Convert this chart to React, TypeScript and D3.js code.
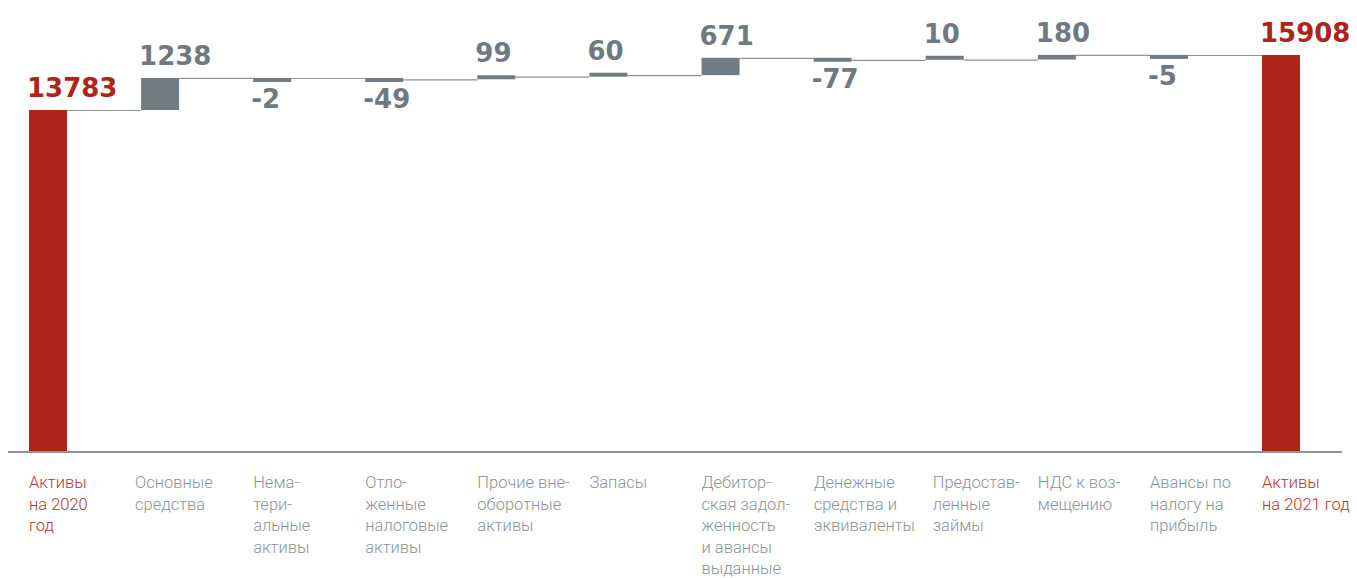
import React from "react";
import * as d3 from "d3";

const categories: string[] = [
  "start", "os", "nma", "ona", "pva", "zap", "deb", "den", "zaim", "nds", "avn", "end",
];
const labelLines: string[][] = [
  ["Активы", "на 2020", "год"],
  ["Основные", "средства"],
  ["Нема-", "тери-", "альные", "активы"],
  ["Отло-", "женные", "налоговые", "активы"],
  ["Прочие вне-", "оборотные", "активы"],
  ["Запасы"],
  ["Дебитор-", "ская задол-", "женность", "и авансы", "выданные"],
  ["Денежные", "средства и", "эквиваленты"],
  ["Предостав-", "ленные", "займы"],
  ["НДС к воз-", "мещению"],
  ["Авансы по", "налогу на", "прибыль"],
  ["Активы", "на 2021 год"],
];
const startTotal = 13783;
const changes: number[] = [1238, -2, -49, 99, 60, 671, -77, 10, 180, -5];
const endTotal = 15908;

const W = 1357;
const H = 578;
const axisY = 452;
const RED = "#ad2519";
const RED_TXT = "#b5352c";
const GRAY_BAR = "#717b81";
const GRAY_TXT = "#8b9297";
const GRAY_VAL = "#6f797f";
const LINE = "#8c959b";
const MIN_H = 4;

type Bar = { key: string; kind: "total" | "delta"; value: number; from: number; to: number };

export default function App() {
  const bars: Bar[] = [];
  bars.push({ key: categories[0], kind: "total", value: startTotal, from: 0, to: startTotal });
  let cum = startTotal;
  changes.forEach((c, i) => {
    bars.push({ key: categories[i + 1], kind: "delta", value: c, from: cum, to: cum + c });
    cum += c;
  });
  bars.push({ key: categories[11], kind: "total", value: endTotal, from: 0, to: endTotal });

  const x = d3
    .scaleBand<string>()
    .domain(categories)
    .range([29, 1300])
    .paddingInner(0.661)
    .paddingOuter(0);
  const y = d3.scaleLinear().domain([startTotal, endTotal]).range([110, 55]);
  const bw = x.bandwidth();

  const geom = bars.map((b) => {
    const x0 = x(b.key) as number;
    if (b.kind === "total") {
      return { x0, top: y(b.to), bottom: axisY, level: y(b.to) };
    }
    let top = Math.min(y(b.from), y(b.to));
    let bottom = Math.max(y(b.from), y(b.to));
    if (bottom - top < MIN_H) {
      if (b.value >= 0) top = bottom - MIN_H;
      else bottom = top + MIN_H;
    }
    return { x0, top, bottom, level: y(b.to) };
  });

  const labelShift: Record<string, number> = { os: -6, zaim: 7 };

  return (
    <svg
      width={W}
      height={H}
      style={{ position: "absolute", left: 0, top: 0, background: "#fff" }}
    >
      {/* connectors */}
      {geom.slice(0, -1).map((g, i) => (
        <line
          key={"c" + i}
          x1={g.x0 + bw}
          x2={geom[i + 1].x0}
          y1={g.level + 0.5}
          y2={g.level + 0.5}
          stroke={LINE}
          strokeWidth={1.2}
        />
      ))}
      {/* bars */}
      {bars.map((b, i) => (
        <rect
          key={"b" + i}
          x={geom[i].x0}
          y={geom[i].top}
          width={bw}
          height={geom[i].bottom - geom[i].top}
          fill={b.kind === "total" ? RED : GRAY_BAR}
        />
      ))}
      {/* axis */}
      <line x1={8} x2={1342} y1={axisY} y2={axisY} stroke={LINE} strokeWidth={2.2} />
      {/* value labels */}
      {bars.map((b, i) => {
        const g = geom[i];
        const neg = b.kind === "delta" && b.value < 0;
        const yy = neg ? g.bottom + 26 : g.top - 13;
        return (
          <text
            key={"v" + i}
            x={g.x0 - 2}
            y={yy}
            fontFamily="'DejaVu Sans', sans-serif"
            fontWeight={700}
            fontSize={26}
            fill={b.kind === "total" ? RED : GRAY_VAL}
          >
            {b.value}
          </text>
        );
      })}
      {/* category labels */}
      {labelLines.map((lines, i) => {
        const key = categories[i];
        const isTotal = i === 0 || i === categories.length - 1;
        return (
          <text
            key={"l" + i}
            x={(x(key) as number) + (labelShift[key] || 0)}
            y={488}
            fontFamily="Roboto, sans-serif"
            fontWeight={300}
            fontSize={16.5}
            fill={isTotal ? RED_TXT : GRAY_TXT}
          >
            {lines.map((ln, j) => (
              <tspan key={j} x={(x(key) as number) + (labelShift[key] || 0)} dy={j === 0 ? 0 : 21.5}>
                {ln}
              </tspan>
            ))}
          </text>
        );
      })}
    </svg>
  );
}
